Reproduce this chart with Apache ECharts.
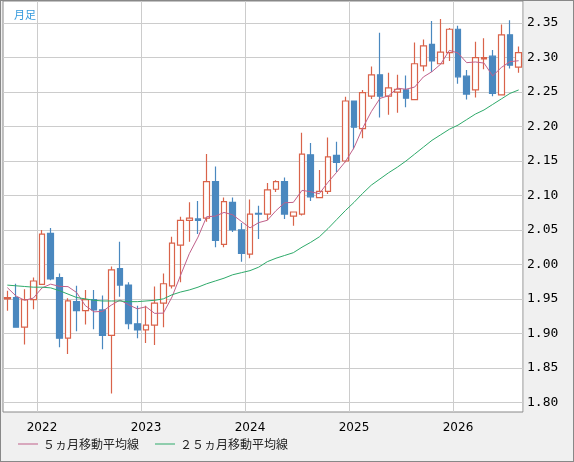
<!DOCTYPE html>
<html><head><meta charset="utf-8">
<script src="https://cdn.jsdelivr.net/npm/echarts@6/dist/echarts.min.js"></script>
<style>html,body{margin:0;padding:0;background:#f0f0f0}#c{width:572px;height:460px;border:1px solid #888}</style>
</head><body><div id="c"></div>
<script>
const months = [];
(function(){let y=2021,m=9;for(let i=0;i<60;i++){months.push(y+'-'+String(m).padStart(2,'0'));m++;if(m>12){m=1;y++;}}})();
// [open, close, low, high]
const ohlc = [
[1.950,1.952,1.933,1.962],[1.952,1.909,1.909,1.972],[1.909,1.949,1.884,1.964],[1.949,1.976,1.935,1.981],
[1.971,2.044,1.971,2.050],[2.045,1.979,1.977,2.053],[1.981,1.893,1.880,1.987],[1.893,1.947,1.870,1.951],
[1.946,1.933,1.903,1.969],[1.933,1.949,1.913,1.963],[1.949,1.934,1.906,1.963],[1.934,1.897,1.877,1.955],
[1.897,1.992,1.813,1.997],[1.994,1.970,1.953,2.033],[1.970,1.914,1.906,1.974],[1.914,1.905,1.893,1.940],
[1.905,1.912,1.886,1.940],[1.912,1.944,1.883,1.968],[1.944,1.972,1.909,1.987],[1.969,2.031,1.965,2.040],
[2.028,2.064,1.974,2.069],[2.064,2.067,2.033,2.090],[2.066,2.064,2.044,2.092],[2.067,2.120,2.062,2.160],
[2.120,2.035,2.025,2.142],[2.029,2.091,2.025,2.097],[2.090,2.050,2.047,2.097],[2.050,2.016,2.004,2.060],
[2.015,2.073,2.009,2.094],[2.074,2.073,2.037,2.085],[2.073,2.108,2.064,2.118],[2.109,2.120,2.105,2.122],
[2.120,2.073,2.066,2.126],[2.070,2.076,2.056,2.076],[2.073,2.160,2.071,2.191],[2.159,2.098,2.092,2.176],
[2.097,2.106,2.096,2.137],[2.106,2.156,2.102,2.184],[2.158,2.148,2.134,2.178],[2.150,2.237,2.148,2.243],
[2.237,2.199,2.167,2.237],[2.197,2.249,2.183,2.253],[2.244,2.275,2.240,2.287],[2.275,2.244,2.213,2.336],
[2.244,2.256,2.217,2.278],[2.250,2.254,2.220,2.275],[2.253,2.241,2.228,2.274],[2.239,2.291,2.238,2.322],
[2.288,2.317,2.280,2.326],[2.319,2.295,2.279,2.353],[2.291,2.308,2.290,2.356],[2.307,2.341,2.295,2.343],
[2.341,2.272,2.262,2.346],[2.273,2.247,2.239,2.282],[2.253,2.300,2.242,2.323],[2.298,2.300,2.283,2.328],
[2.302,2.248,2.244,2.311],[2.246,2.333,2.245,2.348],[2.333,2.289,2.284,2.354],[2.286,2.307,2.278,2.316]
];
const priorCloses = [1.970,1.980,1.960,1.970];
const ma25 = [1.970,1.969,1.968,1.967,1.967,1.966,1.962,1.957,1.952,1.950,1.948,1.947,1.947,1.947,1.946,1.946,
1.947,1.948,1.950,1.956,1.960,1.963,1.967,1.972,1.976,1.980,1.985,1.988,1.991,1.996,2.004,2.009,2.013,2.017,2.025,2.032,
2.040,2.052,2.065,2.078,2.090,2.103,2.115,2.124,2.133,2.141,2.150,2.160,2.170,2.180,2.188,2.196,2.202,2.210,2.218,2.224,
2.232,2.240,2.248,2.253];
const yTicks = [1.80,1.85,1.90,1.95,2.00,2.05,2.10,2.15,2.20,2.25,2.30,2.35];
const legendNames = ['５ヵ月移動平均線','２５ヵ月移動平均線'];

const closes = priorCloses.concat(ohlc.map(d=>d[1]));
const ma5 = ohlc.map((d,i)=>{let s=0;for(let k=0;k<5;k++)s+=closes[i+4-k];return +(s/5).toFixed(4);});
const isJan = (i)=>months[i].endsWith('-01');

const chart = echarts.init(document.getElementById('c'));
chart.setOption({
  animation:false,
  backgroundColor:'#f0f0f0',
  title:{text:'月足',left:8,top:3,textStyle:{color:'#3399dd',fontSize:11,fontWeight:'normal',fontFamily:'Noto Sans CJK JP'}},
  grid:{left:2,right:50,top:0,bottom:49,show:true,backgroundColor:'#fff',borderColor:'#888',borderWidth:1},
  legend:{data:legendNames,left:12,bottom:6,icon:'rect',itemWidth:20,itemHeight:1,itemGap:16,
    textStyle:{fontSize:12,color:'#222',fontFamily:'Noto Sans CJK JP'}},
  xAxis:{type:'category',data:months,boundaryGap:true,
    axisLine:{show:false},axisTick:{show:false},
    axisLabel:{interval:(i)=>isJan(i),formatter:(v)=>v.slice(0,4),color:'#000',fontSize:12,margin:10,fontFamily:'DejaVu Sans'},
    splitLine:{show:true,interval:(i)=>isJan(i),lineStyle:{color:'#cccccc'}}},
  yAxis:{type:'value',position:'right',min:1.786,max:2.382,scale:true,
    axisLine:{show:false},axisTick:{show:false},splitLine:{show:false},
    axisLabel:{customValues:yTicks,formatter:(v)=>v.toFixed(2),color:'#000',fontSize:13,margin:4,fontFamily:'DejaVu Sans Mono'}},
  series:[
    {type:'candlestick',data:ohlc,barWidth:6,
     itemStyle:{color:'#ffffff',color0:'#4a88bf',borderColor:'#d9634a',borderColor0:'#4a88bf',borderWidth:1.2},
     markLine:{silent:true,symbol:'none',label:{show:false},lineStyle:{color:'#cccccc',type:'solid',width:1},
       data:yTicks.map(v=>({yAxis:v})),z:0}},
    {name:legendNames[0],type:'line',data:ma5,symbol:'none',lineStyle:{color:'#c0608a',width:1},itemStyle:{color:'#c0608a'}},
    {name:legendNames[1],type:'line',data:ma25,symbol:'none',lineStyle:{color:'#2eaa6a',width:1},itemStyle:{color:'#2eaa6a'}}
  ]
});
</script></body></html>
